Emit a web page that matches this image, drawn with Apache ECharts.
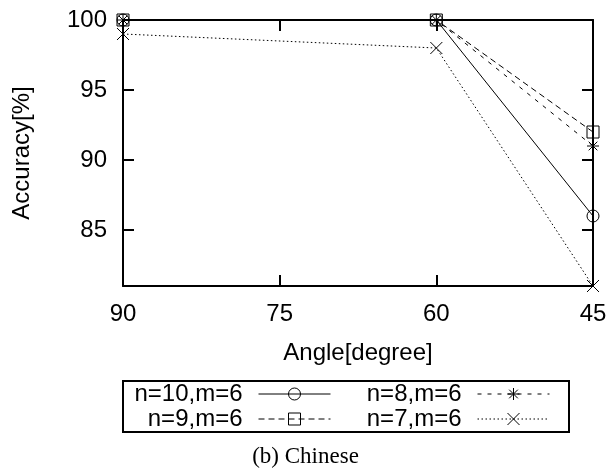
<!DOCTYPE html>
<html>
<head>
<meta charset="utf-8">
<script src="https://cdn.jsdelivr.net/npm/echarts@6/dist/echarts.min.js"></script>
<style>
html,body{margin:0;padding:0;background:#fff;}
#chart{width:611px;height:471px;}
</style>
</head>
<body>
<div id="chart"></div>
<script>
// Data
const angles = [90, 60, 45];
const acc_n10 = [100, 100, 86];
const acc_n9 = [100, 100, 92];
const acc_n8 = [100, 100, 91];
const acc_n7 = [99, 98, 81];
const yTicks = [85, 90, 95, 100];
const xTitle = 'Angle[degree]';
const yTitle = 'Accuracy[%]';
const caption = '(b) Chinese';

const FONT = 'Liberation Sans';
const FS = 24;
const pts = vals => angles.map((a, i) => [a, vals[i]]);

const SYM_X = 'path://M-1,-1L1,1M-1,1L1,-1';
const SYM_STAR = 'path://M0,-1L0,1M-1,0L1,0M-0.72,-0.72L0.72,0.72M-0.72,0.72L0.72,-0.72';

function mkSeries(name, vals, symbol, dash) {
  return {
    name: name,
    type: 'line',
    data: pts(vals),
    symbol: symbol,
    symbolSize: 12,
    symbolKeepAspect: true,
    clip: false,
    color: '#000',
    lineStyle: { color: '#000', width: 1, type: dash },
    itemStyle: { color: 'transparent', borderColor: '#000', borderWidth: 1 },
    emphasis: { disabled: true },
    animation: false
  };
}

const axisLine = { show: true, lineStyle: { color: '#000', width: 2 } };
const tick = { show: true, inside: true, length: 11, lineStyle: { color: '#000', width: 2 } };

const legendCommon = {
  orient: 'horizontal',
  align: 'right',
  itemWidth: 72,
  itemHeight: 15,
  padding: 0,
  selectedMode: false,
  itemStyle: { borderWidth: 1 },
  lineStyle: { width: 1 },
  textStyle: { fontFamily: FONT, fontSize: FS, color: '#000', lineHeight: 24, padding: [0, 11, 0, 0] }
};

const chart = echarts.init(document.getElementById('chart'), null, { renderer: 'canvas' });
chart.setOption({
  animation: false,
  backgroundColor: '#fff',
  title: {
    text: caption,
    left: 'center',
    top: 445,
    padding: 0,
    textStyle: { fontFamily: 'Liberation Serif', fontSize: 23, fontWeight: 'normal', color: '#000' }
  },
  grid: { left: 123, right: 18, top: 20, bottom: 185 },
  xAxis: [
    {
      type: 'value', min: 45, max: 90, interval: 15, inverse: true, position: 'bottom',
      name: xTitle, nameLocation: 'middle', nameGap: 55,
      nameTextStyle: { fontFamily: FONT, fontSize: FS, color: '#000' },
      axisLine: axisLine, axisTick: tick, splitLine: { show: false },
      axisLabel: { fontFamily: FONT, fontSize: FS, color: '#000', margin: 16 }
    },
    {
      type: 'value', min: 45, max: 90, interval: 15, inverse: true, position: 'top',
      axisLine: axisLine, axisTick: tick, splitLine: { show: false },
      axisLabel: { show: false }
    }
  ],
  yAxis: [
    {
      type: 'value', min: 81, max: 100, position: 'left',
      name: yTitle, nameLocation: 'middle', nameGap: 89,
      nameTextStyle: { fontFamily: FONT, fontSize: FS, color: '#000' },
      axisLine: axisLine,
      axisTick: Object.assign({}, tick, { customValues: yTicks }),
      splitLine: { show: false },
      axisLabel: { fontFamily: FONT, fontSize: FS, color: '#000', margin: 16, customValues: yTicks }
    },
    {
      type: 'value', min: 81, max: 100, position: 'right',
      axisLine: axisLine,
      axisTick: Object.assign({}, tick, { customValues: yTicks }),
      splitLine: { show: false },
      axisLabel: { show: false, customValues: yTicks }
    }
  ],
  legend: [
    Object.assign({}, legendCommon, { data: ['n=10,m=6'], right: 280, top: 382 }),
    Object.assign({}, legendCommon, { data: ['n=8,m=6'], right: 61, top: 382 }),
    Object.assign({}, legendCommon, { data: ['n=9,m=6'], right: 280, top: 407 }),
    Object.assign({}, legendCommon, { data: ['n=7,m=6'], right: 61, top: 407 })
  ],
  graphic: [
    {
      type: 'rect',
      shape: { x: 123, y: 381, width: 446, height: 51 },
      style: { fill: 'none', stroke: '#000', lineWidth: 2 },
      silent: true
    }
  ],
  series: [
    mkSeries('n=10,m=6', acc_n10, 'circle', 'solid'),
    mkSeries('n=9,m=6', acc_n9, 'rect', [6, 4]),
    mkSeries('n=8,m=6', acc_n8, SYM_STAR, [4, 6]),
    mkSeries('n=7,m=6', acc_n7, SYM_X, [1.5, 2.5])
  ]
});
</script>
</body>
</html>
